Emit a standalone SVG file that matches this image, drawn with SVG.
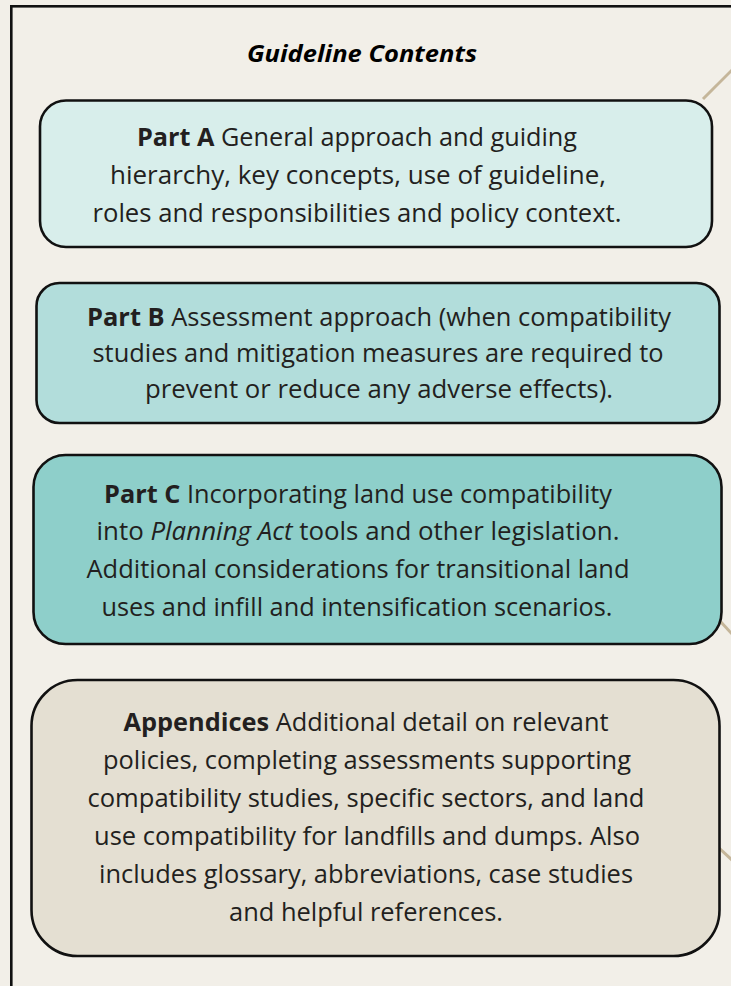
<svg xmlns="http://www.w3.org/2000/svg" width="731" height="986" viewBox="0 0 731 986">
  <style>
    .frame { fill: #f2efe8; stroke: #111; stroke-width: 2.6; }
    .box { stroke: #111; stroke-width: 2.6; }
    .lead { fill: none; stroke: #c5b69a; stroke-width: 3; }
    .txt { font-family: "Open Sans", Lato, sans-serif; font-size: 25px; fill: #231f20; text-anchor: middle; font-variant-ligatures: none; }
    .b { font-weight: bold; }
    .i { font-style: italic; }
    .title { font-family: "Open Sans", Lato, sans-serif; font-size: 23px; font-weight: bold; font-style: italic; fill: #000; text-anchor: middle; }
  </style>
  <rect x="0" y="0" width="731" height="986" fill="#f2efe8"/>
  <rect class="frame" x="11.3" y="6.3" width="800" height="1100"/>

  <g id="connectors">
    <line class="lead" x1="703" y1="99" x2="733" y2="69"/>
    <line class="lead" x1="720" y1="621" x2="733" y2="635"/>
    <line class="lead" x1="719" y1="848" x2="733" y2="861"/>
  </g>

  <text class="title" x="362" y="62" textLength="230" lengthAdjust="spacingAndGlyphs">Guideline Contents</text>

  <g id="part-a">
    <rect class="box" x="40" y="100.5" width="672" height="146.5" rx="26" fill="#d8eeeb"/>
    <text class="txt" x="357" y="146" textLength="440" lengthAdjust="spacingAndGlyphs"><tspan class="b">Part A</tspan> General approach and guiding</text>
    <text class="txt" x="358" y="184" textLength="496" lengthAdjust="spacingAndGlyphs">hierarchy, key concepts, use of guideline,</text>
    <text class="txt" x="357" y="222" textLength="529" lengthAdjust="spacingAndGlyphs">roles and responsibilities and policy context.</text>
  </g>

  <g id="part-b">
    <rect class="box" x="36.5" y="283" width="683" height="140" rx="23" fill="#b2dddb"/>
    <text class="txt" x="379" y="326" textLength="584" lengthAdjust="spacingAndGlyphs"><tspan class="b">Part B</tspan> Assessment approach (when compatibility</text>
    <text class="txt" x="378" y="362" textLength="571" lengthAdjust="spacingAndGlyphs">studies and mitigation measures are required to</text>
    <text class="txt" x="379" y="398" textLength="468" lengthAdjust="spacingAndGlyphs">prevent or reduce any adverse effects).</text>
  </g>

  <g id="part-c">
    <rect class="box" x="33.5" y="455" width="688" height="189" rx="32" fill="#8ecfca"/>
    <text class="txt" x="358" y="503" textLength="508" lengthAdjust="spacingAndGlyphs"><tspan class="b">Part C</tspan> Incorporating land use compatibility</text>
    <text class="txt" x="358" y="540" textLength="523" lengthAdjust="spacingAndGlyphs">into <tspan class="i">Planning Act</tspan> tools and other legislation.</text>
    <text class="txt" x="358" y="578" textLength="543" lengthAdjust="spacingAndGlyphs">Additional considerations for transitional land</text>
    <text class="txt" x="357" y="616" textLength="511" lengthAdjust="spacingAndGlyphs">uses and infill and intensification scenarios.</text>
  </g>

  <g id="appendices">
    <rect class="box" x="31.5" y="680" width="688" height="276" rx="46" fill="#e4dfd2"/>
    <text class="txt" x="366" y="731" textLength="485" lengthAdjust="spacingAndGlyphs"><tspan class="b">Appendices</tspan> Additional detail on relevant</text>
    <text class="txt" x="367" y="769" textLength="528" lengthAdjust="spacingAndGlyphs">policies, completing assessments supporting</text>
    <text class="txt" x="366" y="807" textLength="557" lengthAdjust="spacingAndGlyphs">compatibility studies, specific sectors, and land</text>
    <text class="txt" x="367" y="845" textLength="546" lengthAdjust="spacingAndGlyphs">use compatibility for landfills and dumps. Also</text>
    <text class="txt" x="366" y="883" textLength="534" lengthAdjust="spacingAndGlyphs">includes glossary, abbreviations, case studies</text>
    <text class="txt" x="366" y="921" textLength="274" lengthAdjust="spacingAndGlyphs">and helpful references.</text>
  </g>
</svg>
